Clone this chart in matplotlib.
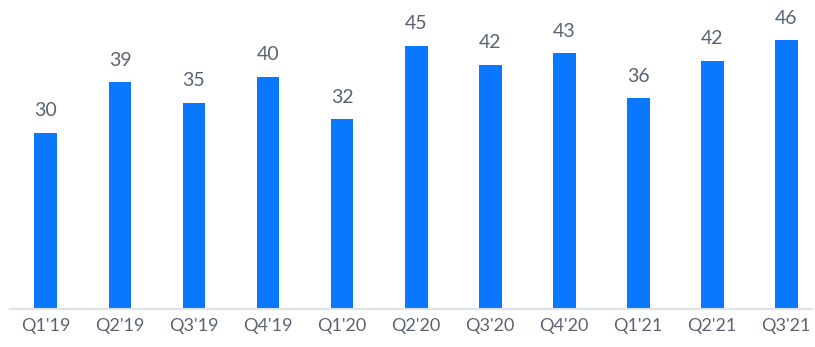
import matplotlib
matplotlib.use("Agg")
import matplotlib.pyplot as plt

# --- dados ---
quarters = ["Q1'19", "Q2'19", "Q3'19", "Q4'19", "Q1'20", "Q2'20",
            "Q3'20", "Q4'20", "Q1'21", "Q2'21", "Q3'21"]
heights = [30.05, 38.7, 35.2, 39.7, 32.4, 45.0, 41.7, 43.7, 36.0, 42.4, 45.9]
labels = [30, 39, 35, 40, 32, 45, 42, 43, 36, 42, 46]

bar_color = "#0A77FF"
text_color = "#5B6372"

fig = plt.figure(figsize=(8.15, 3.47), dpi=100)
ax = fig.add_axes([10 / 815, 1 - 308.5 / 347, 802 / 815, 308.5 / 347])

x = range(len(quarters))
ax.bar(x, heights, width=0.31, color=bar_color, zorder=2)

for i, h, lab in zip(x, heights, labels):
    ax.text(i, h + 2.3, str(lab), ha="center", va="bottom",
            fontsize=14, color=text_color, family="Lato")

ax.set_xlim(-0.486, 10.35)
ax.set_ylim(0, 52.8)
ax.set_xticks(list(x))
ax.set_xticklabels(quarters, fontsize=13, color=text_color, family="Lato")
ax.tick_params(axis="x", length=0, pad=7)
ax.set_yticks([])

for s in ["top", "right", "left"]:
    ax.spines[s].set_visible(False)
ax.spines["bottom"].set_color("#DCE2EA")
ax.spines["bottom"].set_linewidth(1.5)

fig.savefig("out.png", dpi=100)
